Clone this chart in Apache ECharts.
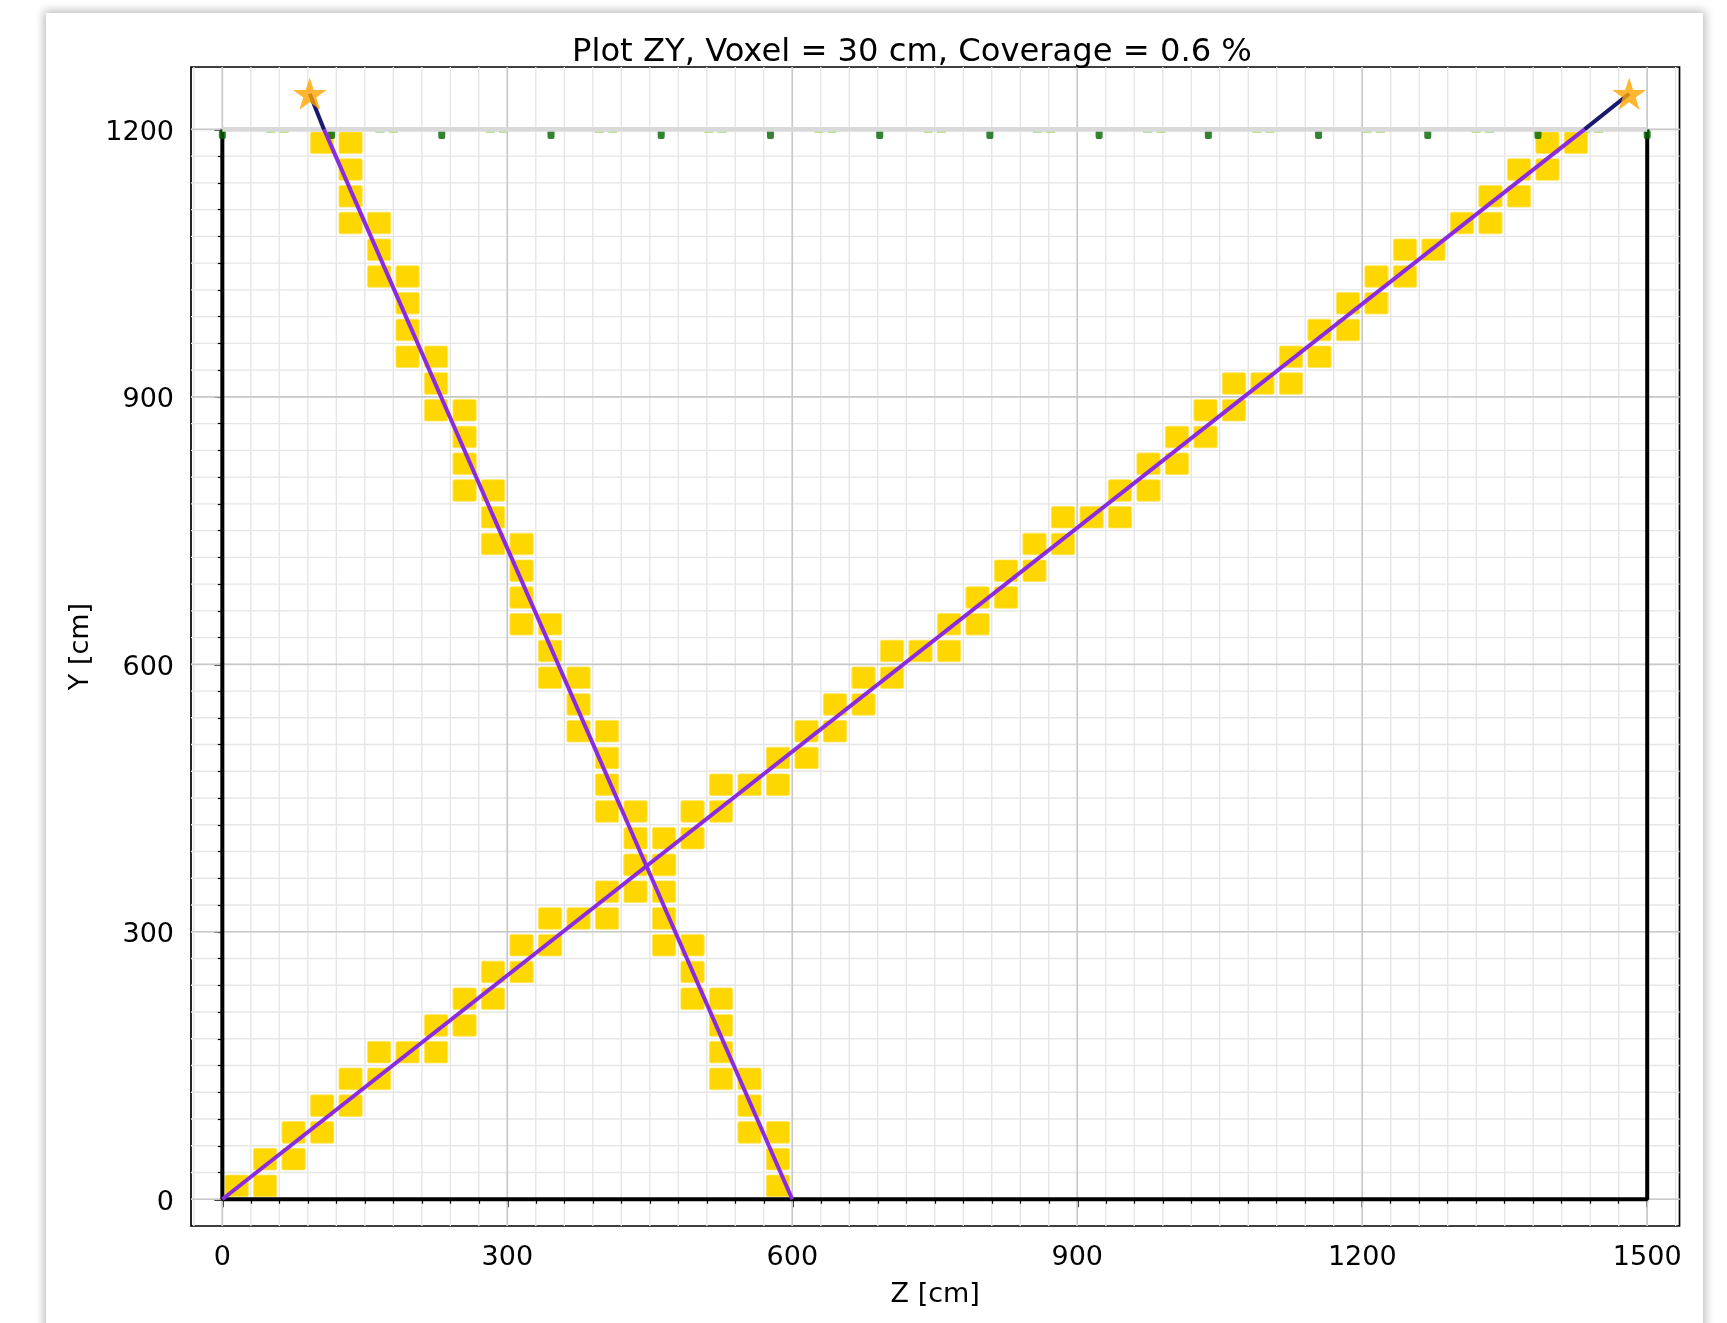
<!DOCTYPE html>
<html>
<head>
<meta charset="utf-8">
<script src="https://cdn.jsdelivr.net/npm/echarts@6/dist/echarts.min.js"></script>
<style>
  html, body { margin: 0; padding: 0; background: #ffffff; overflow: hidden; }
  #card { position: absolute; left: 46px; top: 13px; width: 1657px; height: 1340px; background: #ffffff;
          box-shadow: 0 0 9px 2px rgba(0,0,0,0.28); }
  #chart { position: absolute; left: 0; top: 0; width: 1727px; height: 1323px; }
</style>
</head>
<body>
<div id="card"></div>
<div id="chart"></div>
<script>
// ---------------- DATA ----------------
const titleText = 'Plot ZY, Voxel = 30 cm, Coverage = 0.6 %';
const xAxisName = 'Z [cm]';
const yAxisName = 'Y [cm]';
const xMajorTicks = [0, 300, 600, 900, 1200, 1500];
const yMajorTicks = [0, 300, 600, 900, 1200];
const xMinorTicks = [0,30,60,90,120,150,180,210,240,270,300,330,360,390,420,450,480,510,540,570,600,630,660,690,720,750,780,810,840,870,900,930,960,990,1020,1050,1080,1110,1140,1170,1200,1230,1260,1290,1320,1350,1380,1410,1440,1470,1500];
const yMinorTicks = [0,30,60,90,120,150,180,210,240,270,300,330,360,390,420,450,480,510,540,570,600,630,660,690,720,750,780,810,840,870,900,930,960,990,1020,1050,1080,1110,1140,1170,1200];
const xGridMinor = [-30,0,30,60,90,120,150,180,210,240,270,300,330,360,390,420,450,480,510,540,570,600,630,660,690,720,750,780,810,840,870,900,930,960,990,1020,1050,1080,1110,1140,1170,1200,1230,1260,1290,1320,1350,1380,1410,1440,1470,1500,1530];
const yGridMinor = [0,30,60,90,120,150,180,210,240,270,300,330,360,390,420,450,480,510,540,570,600,630,660,690,720,750,780,810,840,870,900,930,960,990,1020,1050,1080,1110,1140,1170,1200];
const xGridMajor = [0, 300, 600, 900, 1200, 1500];
const yGridMajor = [0, 300, 600, 900, 1200];

// voxel lower-left corners [z, y] in cm (voxel = 30 cm)
const track1Voxels = [
  [0,0],[30,0],[30,30],[60,30],[60,60],[90,60],[90,90],[120,90],[120,120],[150,120],
  [150,150],[180,150],[210,150],[210,180],[240,180],[240,210],[270,210],[270,240],[300,240],
  [300,270],[330,270],[330,300],[360,300],[390,300],[390,330],[420,330],[420,360],[450,360],
  [450,390],[480,390],[480,420],[510,420],[510,450],[540,450],[570,450],[570,480],[600,480],
  [600,510],[630,510],[630,540],[660,540],[660,570],[690,570],[690,600],[720,600],[750,600],
  [750,630],[780,630],[780,660],[810,660],[810,690],[840,690],[840,720],[870,720],
  [870,750],[900,750],[930,750],[930,780],[960,780],[960,810],[990,810],[990,840],[1020,840],
  [1020,870],[1050,870],[1050,900],[1080,900],[1110,900],[1110,930],[1140,930],[1140,960],[1170,960],
  [1170,990],[1200,990],[1200,1020],[1230,1020],[1230,1050],[1260,1050],[1290,1080],[1320,1080],
  [1320,1110],[1350,1110],[1350,1140],[1380,1140],[1380,1170],[1410,1170]
];
const track2Voxels = [
  [570,0],[570,30],[540,60],[570,60],[540,90],[510,120],[540,120],[510,150],[510,180],
  [480,210],[510,210],[480,240],[450,270],[480,270],[450,300],[450,330],[420,360],[450,360],
  [420,390],[390,420],[420,420],[390,450],[390,480],[360,510],[390,510],[360,540],
  [330,570],[360,570],[330,600],[300,630],[330,630],[300,660],[300,690],[270,720],[300,720],
  [270,750],[240,780],[270,780],[240,810],[240,840],[210,870],[240,870],[210,900],
  [180,930],[210,930],[180,960],[180,990],[150,1020],[180,1020],[150,1050],[120,1080],[150,1080],
  [120,1110],[120,1140],[90,1170],[120,1170]
];

// tracks: start point, exit point at the top plane, star (vertex) point
const track1Inside = [[0, 0], [1434, 1200]];
const track1Outside = [[1434, 1200], [1481, 1240]];
const track2Inside = [[600, 0], [107, 1200]];
const track2Outside = [[107, 1200], [92, 1240]];
const starPoints = [[92, 1240], [1481, 1240]];

// detector box
const boxBlack = [[0, 1200], [0, 0], [1500, 0], [1500, 1200]];
const boxTop = [[0, 1200], [1500, 1200]];

// sensors on the top plane (z positions, cm)
const sensorY = 1200;
const sensorDarkZ = [0, 115, 231, 346, 462, 577, 692, 808, 923, 1038, 1154, 1269, 1385, 1500];
const sensorLightZ = [51, 65, 166, 180, 282, 296, 397, 411, 512, 526, 628, 642, 743, 757, 858, 872,
                      974, 988, 1089, 1103, 1205, 1219, 1320, 1334, 1435, 1449];

// ---------------- CHART ----------------
const FONT = 'DejaVu Sans';
const chart = echarts.init(document.getElementById('chart'), null, { renderer: 'canvas' });

function vGridSeries(values, color, width, z) {
  return {
    type: 'custom', coordinateSystem: 'cartesian2d', silent: true, z: z, clip: true,
    data: values.map(v => [v, 0]),
    renderItem: function (params, api) {
      const x = api.coord([api.value(0), 0])[0];
      const cs = params.coordSys;
      return { type: 'line', shape: { x1: x, y1: cs.y, x2: x, y2: cs.y + cs.height },
               style: { stroke: color, lineWidth: width } };
    }
  };
}
function hGridSeries(values, color, width, z) {
  return {
    type: 'custom', coordinateSystem: 'cartesian2d', silent: true, z: z, clip: true,
    data: values.map(v => [0, v]),
    renderItem: function (params, api) {
      const y = api.coord([0, api.value(1)])[1];
      const cs = params.coordSys;
      return { type: 'line', shape: { x1: cs.x, y1: y, x2: cs.x + cs.width, y2: y },
               style: { stroke: color, lineWidth: width } };
    }
  };
}
function voxelSeries(cells) {
  return {
    type: 'custom', coordinateSystem: 'cartesian2d', silent: true, z: 3,
    data: cells,
    renderItem: function (params, api) {
      const p = api.coord([api.value(0), api.value(1) + 30]);
      const s = api.size([30, 30]);
      const ins = 2.6;
      return { type: 'rect',
               shape: { x: p[0] + ins, y: p[1] + ins, width: s[0] - 2 * ins, height: s[1] - 2 * ins, r: 1.5 },
               style: { fill: '#FFD700', stroke: '#FFE45A', lineWidth: 0.8 } };
    }
  };
}
function lineSeries(data, color, width, z) {
  return { type: 'line', data: data, z: z, silent: true, symbol: 'none', showSymbol: false,
           lineStyle: { color: color, width: width, cap: 'butt' }, animation: false };
}

const starPath = 'path://M100,0 L122.45,69.1 L195.11,69.1 L136.33,111.8 L158.78,180.9 L100,138.2 L41.22,180.9 L63.67,111.8 L4.89,69.1 L77.55,69.1 Z';
const yLabelFmt = v => '{t|' + v + '}';

const option = {
  animation: false,
  backgroundColor: 'transparent',
  title: {
    text: titleText, left: 907, top: 32, textAlign: 'center',
    textStyle: { fontFamily: FONT, fontSize: 32.2, fontWeight: 'normal', color: '#000' }
  },
  grid: { left: 191, top: 67, right: 47.5, bottom: 97, show: true,
          borderColor: '#000', borderWidth: 1.7, backgroundColor: '#fff' },
  xAxis: [
    { type: 'value', min: -33, max: 1534, position: 'bottom',
      axisLine: { show: false }, splitLine: { show: false },
      axisTick: { show: true, customValues: xMajorTicks, length: 8, lineStyle: { color: '#000', width: 1.5 } },
      axisLabel: { customValues: xMajorTicks, formatter: v => String(v), fontFamily: FONT, fontSize: 27, color: '#000', margin: 18 },
      name: xAxisName, nameLocation: 'middle', nameGap: 55,
      nameTextStyle: { fontFamily: FONT, fontSize: 27, color: '#000' } },
    { type: 'value', min: -33, max: 1534, position: 'bottom',
      axisLine: { show: false }, splitLine: { show: false },
      axisTick: { show: true, customValues: xMinorTicks, length: 4.5, lineStyle: { color: '#000', width: 1.2 } },
      axisLabel: { show: false } }
  ],
  yAxis: [
    { type: 'value', min: -30, max: 1270, position: 'left',
      axisLine: { show: false }, splitLine: { show: false },
      axisTick: { show: true, customValues: yMajorTicks, length: 8, lineStyle: { color: '#000', width: 1.5 } },
      axisLabel: { customValues: yMajorTicks, formatter: yLabelFmt, color: '#000', margin: 17,
                   rich: { t: { fontFamily: FONT, fontSize: 27, color: '#000', padding: [7, 0, 0, 0] } } },
      name: yAxisName, nameLocation: 'middle', nameGap: 88,
      nameTextStyle: { fontFamily: FONT, fontSize: 27, color: '#000' } },
    { type: 'value', min: -30, max: 1270, position: 'left',
      axisLine: { show: false }, splitLine: { show: false },
      axisTick: { show: true, customValues: yMinorTicks, length: 4.5, lineStyle: { color: '#000', width: 1.2 } },
      axisLabel: { show: false } }
  ],
  series: [
    vGridSeries(xGridMinor, '#e6e6e6', 1.4, 0),
    hGridSeries(yGridMinor, '#e6e6e6', 1.4, 0),
    vGridSeries(xGridMajor, '#c9c9c9', 1.6, 1),
    hGridSeries(yGridMajor, '#c9c9c9', 1.6, 1),
    voxelSeries(track1Voxels),
    voxelSeries(track2Voxels),
    lineSeries(boxBlack, '#000000', 4, 4),
    { type: 'scatter', z: 4, silent: true, symbol: 'rect', symbolSize: [9, 4], symbolOffset: [0, 1.5],
      itemStyle: { color: '#a9d66c' }, data: sensorLightZ.map(v => [v, sensorY]) },
    { type: 'scatter', z: 4, silent: true, symbol: 'roundRect', symbolSize: [7, 9], symbolOffset: [0, 5],
      itemStyle: { color: '#006400' }, data: sensorDarkZ.map(v => [v, sensorY]) },
    lineSeries(boxTop, '#d9d9d9', 4.8, 5),
    lineSeries(track1Inside, '#8A2BE2', 4, 6),
    lineSeries(track2Inside, '#8A2BE2', 4, 6),
    lineSeries(track1Outside, '#191970', 4, 6),
    lineSeries(track2Outside, '#191970', 4, 6),
    { type: 'scatter', z: 7, silent: true, symbol: starPath, symbolSize: [34, 32.4],
      itemStyle: { color: '#FFA500' }, data: starPoints }
  ]
};
chart.setOption(option);
</script>
</body>
</html>
